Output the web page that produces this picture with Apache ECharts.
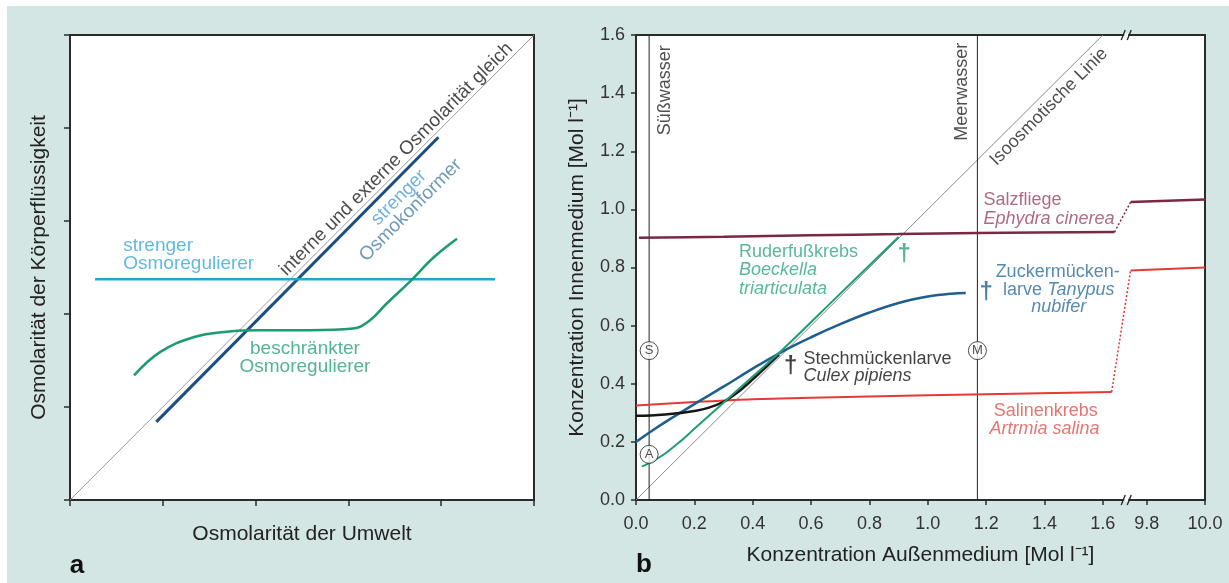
<!DOCTYPE html>
<html><head><meta charset="utf-8">
<script src="https://cdn.jsdelivr.net/npm/echarts@6/dist/echarts.min.js"></script>
<style>
html,body{margin:0;padding:0;background:#fff;width:1229px;height:583px;overflow:hidden;}
#c{position:absolute;left:7px;top:6px;width:1222px;height:577px;background:#d3e6e4;}
</style></head><body><div id="c"></div>
<script>
// ---------- Panel a (schematic) ----------
const aTicks = [0, 1, 2, 3, 4, 5];
const aIsoLine = [[0, 0], [5, 5]];
const aConformer = [[0.93, 0.84], [3.97, 3.90]];
const aRegulator = [[0.27, 2.375], [4.58, 2.375]];
const aLimited = [[0.69, 1.34], [0.97, 1.59], [1.33, 1.75], [1.69, 1.81], [2.05, 1.826], [2.59, 1.826], [3.05, 1.844], [3.23, 1.93], [3.41, 2.11], [3.66, 2.345], [3.92, 2.61], [4.17, 2.81]];

// ---------- Panel b (data) ----------
const bYTicks = [0, 0.2, 0.4, 0.6, 0.8, 1.0, 1.2, 1.4, 1.6];
const bXTicks = [0, 0.2, 0.4, 0.6, 0.8, 1.0, 1.2, 1.4, 1.6, 9.8, 10.0];
const freshwaterX = 0.045;
const seawaterX = 1.17;
const isoLine = [[0, 0], [1.6, 1.6]];
const ephydra = [[0.01, 0.902], [0.3, 0.906], [0.6, 0.911], [0.9, 0.915], [1.17, 0.919], [1.64, 0.922]];
const ephydraJump = [[1.64, 0.922], [9.745, 1.025]];
const ephydraHigh = [[9.745, 1.025], [10.0, 1.034]];
const artemia = [[0.0, 0.325], [0.2, 0.337], [0.4, 0.347], [0.8, 0.356], [1.2, 0.364], [1.63, 0.372]];
const artemiaJump = [[1.63, 0.372], [9.745, 0.79]];
const artemiaHigh = [[9.745, 0.79], [10.0, 0.80]];
const boeckella = [[0.02, 0.115], [0.06, 0.135], [0.1, 0.16], [0.15, 0.2], [0.2, 0.245], [0.25, 0.29], [0.3, 0.335], [0.35, 0.38], [0.4, 0.425], [0.5, 0.515], [0.7, 0.71], [0.9, 0.905]];
const tanypus = [[0.0, 0.2], [0.05, 0.235], [0.1, 0.268], [0.2, 0.33], [0.3, 0.39], [0.4, 0.452], [0.5, 0.51], [0.6, 0.56], [0.7, 0.605], [0.8, 0.645], [0.9, 0.678], [1.0, 0.7], [1.08, 0.71], [1.13, 0.712]];
const culex = [[0.0, 0.29], [0.05, 0.291], [0.1, 0.294], [0.15, 0.299], [0.2, 0.306], [0.25, 0.318], [0.3, 0.338], [0.35, 0.372], [0.4, 0.415], [0.45, 0.462], [0.49, 0.5]];
const markers = [[0.045, 0.514, 'S'], [1.17, 0.514, 'M'], [0.045, 0.157, 'A']];
const daggers = [[0.919, 0.845, '#2a9d78'], [1.2, 0.715, '#1f5f8f'], [0.53, 0.46, '#111']];

const FONT = '"Liberation Sans", Arial, Helvetica, sans-serif';
const C = {
  aCyan: '#29a3cc', aGreen: '#1c9a72', aNavy: '#1c4f80',
  green: '#1f9c76', greenT: '#2ea680', blue: '#1f5f8f', blueT: '#2a6e9f',
  red: '#e53935', redT: '#e0524f', purple: '#7b2746', purpleT: '#9c4468', black: '#151515'
};

function ann(x, y, text, o) {
  return { value: [x, y], symbolSize: 0, label: Object.assign({
    show: true, position: 'inside', formatter: text, fontFamily: FONT, fontSize: 18,
    color: '#222', align: 'left', verticalAlign: 'middle'
  }, o || {}) };
}
function rich(color, size) {
  return {
    n: { color: color, fontSize: size, fontFamily: FONT },
    i: { color: color, fontSize: size, fontFamily: FONT, fontStyle: 'italic' }
  };
}

const annA = [
  ann(3.517, 3.664, 'interne und externe Osmolarität gleich', { align: 'center', rotate: 45, fontSize: 19, color: '#1a1a1a' }),
  ann(3.545, 3.251, 'strenger', { align: 'center', rotate: 45, fontSize: 19, color: '#4a9fd4' }),
  ann(3.671, 3.115, 'Osmokonformer', { align: 'center', rotate: 45, fontSize: 19, color: '#4a7ea8' }),
  ann(0.574, 2.739, 'strenger', { fontSize: 19, color: '#3aa8d8' }),
  ann(0.574, 2.542, 'Osmoregulierer', { fontSize: 19, color: '#3aa8d8' }),
  ann(2.532, 1.629, 'beschränkter', { align: 'center', fontSize: 19, color: '#2aa07a' }),
  ann(2.532, 1.432, 'Osmoregulierer', { align: 'center', fontSize: 19, color: '#2aa07a' })
];
const annB = [
  ann(0.1, 1.41, 'Süßwasser', { align: 'center', rotate: 90, fontSize: 18 }),
  ann(1.118, 1.405, 'Meerwasser', { align: 'center', rotate: 90, fontSize: 18 }),
  ann(1.415, 1.353, 'Isoosmotische Linie', { align: 'center', rotate: 45, fontSize: 18 }),
  ann(1.191, 1.031, 'Salzfliege', { color: C.purpleT }),
  ann(1.191, 0.968, '{i|Ephydra cinerea}', { rich: rich(C.purpleT, 18) }),
  ann(0.353, 0.853, 'Ruderfußkrebs', { color: C.greenT }),
  ann(0.353, 0.790, '{i|Boeckella}', { rich: rich(C.greenT, 18) }),
  ann(0.353, 0.726, '{i|triarticulata}', { rich: rich(C.greenT, 18) }),
  ann(1.445, 0.784, 'Zuckermücken-', { align: 'center', color: C.blueT }),
  ann(1.449, 0.721, '{n|larve }{i|Tanypus}', { align: 'center', rich: rich(C.blueT, 18) }),
  ann(1.449, 0.663, '{i|nubifer}', { align: 'center', rich: rich(C.blueT, 18) }),
  ann(0.574, 0.485, 'Stechmückenlarve', { color: '#111' }),
  ann(0.574, 0.425, '{i|Culex pipiens}', { rich: rich('#111', 18) }),
  ann(1.404, 0.307, 'Salinenkrebs', { align: 'center', color: C.redT }),
  ann(1.400, 0.244, '{i|Artrmia salina}', { align: 'center', rich: rich(C.redT, 18) })
];

function line(name, data, color, width, xi, extra) {
  return Object.assign({
    type: 'line', name: name, data: data, xAxisIndex: xi, yAxisIndex: xi,
    showSymbol: false, symbol: 'none', silent: true,
    lineStyle: { color: color, width: width }
  }, extra || {});
}

const axisTxt = { color: '#333', fontFamily: FONT };

const option = {
  animation: false,
  grid: [
    { left: 63, top: 29, width: 464, height: 465, show: true, backgroundColor: '#fff', borderColor: '#2b2b2b', borderWidth: 2 },
    { left: 629, top: 29, width: 569, height: 465, show: true, backgroundColor: '#fff', borderColor: '#2b2b2b', borderWidth: 2 }
  ],
  xAxis: [
    { gridIndex: 0, type: 'value', min: aTicks[0], max: aTicks[aTicks.length - 1], interval: 1,
      axisLine: { show: true, lineStyle: { color: '#2b2b2b', width: 2 } },
      axisTick: { show: true, inside: false, length: 6, lineStyle: { color: '#2b2b2b', width: 1.5 } },
      axisLabel: { show: false }, splitLine: { show: false },
      name: 'Osmolarität der Umwelt', nameLocation: 'middle', nameGap: 24,
      nameTextStyle: { fontSize: 21, color: '#222', fontFamily: FONT } },
    { gridIndex: 1, type: 'value', min: 0, max: 10, interval: 0.2,
      breaks: [{ start: 1.68, end: 9.73, gap: 0 }],
      breakArea: { show: false },
      axisLine: { show: true, lineStyle: { color: '#2b2b2b', width: 2 } },
      axisTick: { show: true, inside: false, length: 5, customValues: bXTicks, lineStyle: { color: '#2b2b2b', width: 1.5 } },
      axisLabel: Object.assign({ fontSize: 18, margin: 15, customValues: bXTicks, formatter: v => v.toFixed(1) }, axisTxt),
      splitLine: { show: false },
      name: 'Konzentration Außenmedium [Mol l⁻¹]', nameLocation: 'middle', nameGap: 45,
      nameTextStyle: { fontSize: 21, color: '#222', fontFamily: FONT } }
  ],
  yAxis: [
    { gridIndex: 0, type: 'value', min: aTicks[0], max: aTicks[aTicks.length - 1], interval: 1,
      axisLine: { show: true, lineStyle: { color: '#2b2b2b', width: 2 } },
      axisTick: { show: true, inside: false, length: 6, lineStyle: { color: '#2b2b2b', width: 1.5 } },
      axisLabel: { show: false }, splitLine: { show: false },
      name: 'Osmolarität der Körperflüssigkeit', nameLocation: 'middle', nameGap: 20,
      nameTextStyle: { fontSize: 21, color: '#222', fontFamily: FONT } },
    { gridIndex: 1, type: 'value', min: bYTicks[0], max: bYTicks[bYTicks.length - 1], interval: 0.2,
      axisLine: { show: true, lineStyle: { color: '#2b2b2b', width: 2 } },
      axisTick: { show: true, inside: false, length: 5, lineStyle: { color: '#2b2b2b', width: 1.5 } },
      axisLabel: Object.assign({ fontSize: 18, margin: 11, formatter: v => v.toFixed(1) }, axisTxt),
      splitLine: { show: false },
      name: 'Konzentration Innenmedium [Mol l⁻¹]', nameLocation: 'middle', nameGap: 48,
      nameTextStyle: { fontSize: 21, color: '#222', fontFamily: FONT } }
  ],
  series: [
    // panel a
    line('iso a', aIsoLine, '#9a9a9a', 1, 0),
    line('Osmokonformer', aConformer, C.aNavy, 3, 0),
    line('Osmoregulierer', aRegulator, C.aCyan, 2.5, 0),
    line('beschränkt', aLimited, C.aGreen, 2.5, 0, { smooth: 0.4 }),
    { type: 'scatter', xAxisIndex: 0, yAxisIndex: 0, silent: true, data: annA, z: 5 },
    // panel b
    line('iso', isoLine, '#8a8a8a', 1, 1),
    line('Süßwasser', [[freshwaterX, 0], [freshwaterX, 1.6]], '#222', 1, 1),
    line('Meerwasser', [[seawaterX, 0], [seawaterX, 1.6]], '#222', 1, 1),
    line('Artemia', artemia, C.red, 2, 1, { smooth: 0.3 }),
    line('Artemia jump', artemiaJump, C.red, 1.5, 1, { lineStyle: { color: C.red, width: 1.5, type: [2, 2] } }),
    line('Artemia high', artemiaHigh, C.red, 2, 1),
    line('Ephydra', ephydra, C.purple, 2.5, 1, { smooth: 0.3 }),
    line('Ephydra jump', ephydraJump, C.purple, 1.5, 1, { lineStyle: { color: C.purple, width: 1.5, type: [2, 2] } }),
    line('Ephydra high', ephydraHigh, C.purple, 2.5, 1),
    line('Tanypus', tanypus, C.blue, 2.5, 1, { smooth: 0.4 }),
    line('Culex', culex, C.black, 2.5, 1, { smooth: 0.4 }),
    line('Boeckella', boeckella, C.green, 2, 1, { smooth: 0.4 }),
    { type: 'scatter', xAxisIndex: 1, yAxisIndex: 1, silent: true, z: 6, symbol: 'circle', symbolSize: 18,
      itemStyle: { color: '#fff', borderColor: '#222', borderWidth: 1 },
      label: { show: true, position: 'inside', formatter: p => p.value[2], fontSize: 13, color: '#222', fontFamily: FONT },
      data: markers },
    { type: 'scatter', xAxisIndex: 1, yAxisIndex: 1, silent: true, z: 6, symbolSize: 0,
      data: daggers.map(d => ({ value: [d[0], d[1]], label: { show: true, position: 'inside', formatter: '†', fontSize: 24, fontWeight: 'bold', color: d[2], fontFamily: FONT } })) },
    { type: 'scatter', xAxisIndex: 1, yAxisIndex: 1, silent: true, data: annB, z: 5 }
  ]
};

const chart = echarts.init(document.getElementById('c'));
chart.setOption(option);

// break marks "//" on top and bottom frame lines, panel letters
const bx = chart.convertToPixel({ xAxisIndex: 1 }, 1.68);
const yTop = 29, yBot = 29 + 465;
const els = [];
[yTop, yBot].forEach(yy => {
  els.push({ type: 'rect', z: 100, shape: { x: bx - 2, y: yy - 1.5, width: 4, height: 3 }, style: { fill: '#fff' } });
  els.push({ type: 'line', z: 101, shape: { x1: bx - 5, y1: yy + 5, x2: bx - 1, y2: yy - 5 }, style: { stroke: '#2b2b2b', lineWidth: 1.4 } });
  els.push({ type: 'line', z: 101, shape: { x1: bx + 1, y1: yy + 5, x2: bx + 5, y2: yy - 5 }, style: { stroke: '#2b2b2b', lineWidth: 1.4 } });
});
els.push({ type: 'text', z: 100, style: { text: 'a', x: 70, y: 560, font: 'bold 26px "Liberation Sans Narrow", "Liberation Sans", Arial', fill: '#111', textAlign: 'center', textVerticalAlign: 'middle' } });
els.push({ type: 'text', z: 100, style: { text: 'b', x: 637, y: 559, font: 'bold 26px "Liberation Sans Narrow", "Liberation Sans", Arial', fill: '#111', textAlign: 'center', textVerticalAlign: 'middle' } });
chart.setOption({ graphic: { elements: els } });
</script>
</body></html>
